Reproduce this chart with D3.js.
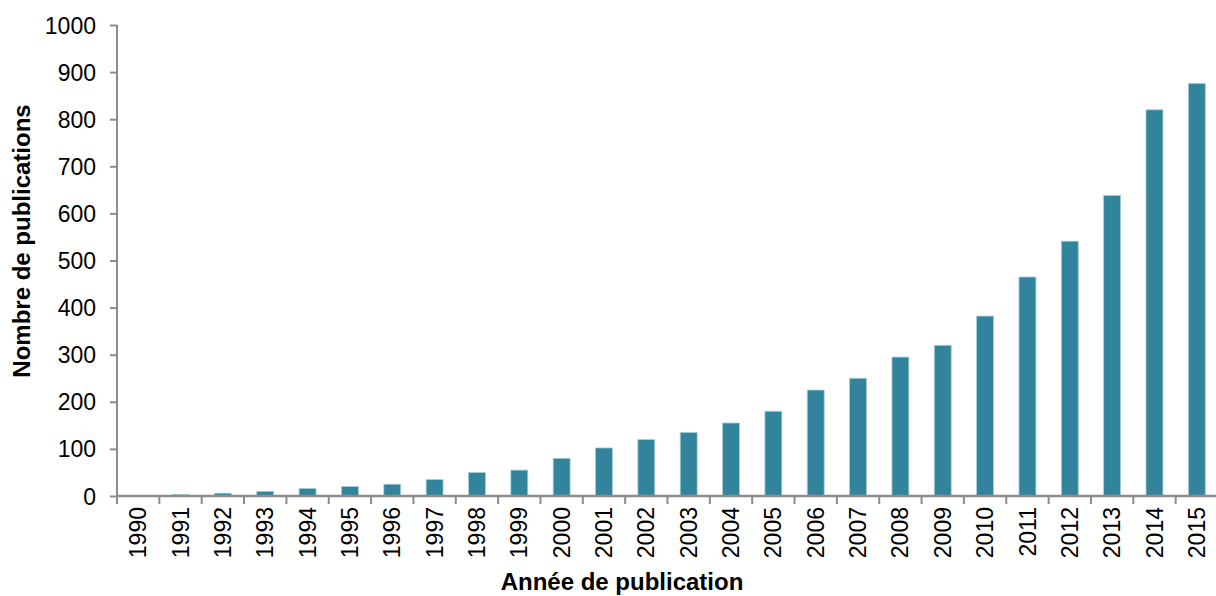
<!DOCTYPE html>
<html>
<head>
<meta charset="utf-8">
<script src="https://cdn.jsdelivr.net/npm/d3@7"></script>
<style>
  body { margin: 0; background: #fff; }
  text { font-family: "Liberation Sans", Arial, sans-serif; fill: #000; }
</style>
</head>
<body>
<div id="chart"></div>
<script>
// Data
const years = ["1990", "1991", "1992", "1993", "1994", "1995", "1996", "1997", "1998", "1999",
  "2000", "2001", "2002", "2003", "2004", "2005", "2006", "2007", "2008", "2009",
  "2010", "2011", "2012", "2013", "2014", "2015"];
const publications = [0, 3, 6, 10, 16, 20, 25, 35, 50, 55,
  80, 102, 120, 135, 155, 180, 225, 250, 295, 320,
  382, 465, 541, 638, 820, 876];
const yTicks = [0, 100, 200, 300, 400, 500, 600, 700, 800, 900, 1000];

const width = 1216, height = 596;
const margin = { top: 25, right: -2, bottom: 100, left: 117 };
const plotW = width - margin.left - margin.right;
const plotH = height - margin.top - margin.bottom;

const svg = d3.select("#chart")
  .append("svg")
  .attr("width", width)
  .attr("height", height);

const g = svg.append("g")
  .attr("transform", `translate(${margin.left},${margin.top})`);

// Scales
const x = d3.scaleBand()
  .domain(years)
  .range([0, plotW])
  .paddingInner(0.6)
  .paddingOuter(0.3);

const y = d3.scaleLinear()
  .domain([0, 1000])
  .range([plotH, 0]);

// Bars
g.selectAll(".bar")
  .data(years)
  .enter()
  .append("rect")
  .attr("class", "bar")
  .attr("x", d => x(d))
  .attr("width", x.bandwidth())
  .attr("y", (d, i) => y(publications[i]))
  .attr("height", (d, i) => plotH - y(publications[i]))
  .style("fill", "#31849b")
  .style("stroke", "#a9cfd9")
  .style("stroke-width", 0.8);

// Y axis
const yAxis = g.append("g")
  .call(d3.axisLeft(y).tickValues(yTicks).tickFormat(d3.format("d")).tickSize(7).tickPadding(14));
yAxis.select(".domain").attr("stroke", "#8c8c8c").attr("stroke-width", 2)
  .attr("d", `M0,0V${plotH}`);
yAxis.selectAll(".tick line").attr("stroke", "#8c8c8c").attr("stroke-width", 2);
yAxis.selectAll(".tick text")
  .style("font-size", "23px")
  .attr("dy", "0.35em");

// X axis: ticks sit on the band boundaries
const xAxisG = g.append("g")
  .attr("transform", `translate(0,${plotH})`);
xAxisG.append("path")
  .attr("d", `M0,0H${plotW}`)
  .attr("stroke", "#8c8c8c")
  .attr("stroke-width", 2.5)
  .attr("fill", "none");
const step = x.step();
xAxisG.selectAll(".xtick")
  .data(years)
  .enter()
  .append("line")
  .attr("class", "xtick")
  .attr("x1", (d, i) => i * step)
  .attr("x2", (d, i) => i * step)
  .attr("y1", 0)
  .attr("y2", 8)
  .attr("stroke", "#8c8c8c")
  .attr("stroke-width", 2);

xAxisG.selectAll(".xlabel")
  .data(years)
  .enter()
  .append("text")
  .attr("class", "xlabel")
  .attr("transform", d => `translate(${x(d) + x.bandwidth() / 2},11) rotate(-90)`)
  .attr("text-anchor", "end")
  .attr("dy", "0.35em")
  .style("font-size", "23px")
  .text(d => d);

// Axis labels
svg.append("text")
  .attr("x", 622)
  .attr("y", 590)
  .attr("text-anchor", "middle")
  .style("font-size", "24px")
  .style("font-weight", "bold")
  .text("Année de publication");

svg.append("text")
  .attr("transform", `translate(30,241) rotate(-90)`)
  .attr("text-anchor", "middle")
  .style("font-size", "24px")
  .style("font-weight", "bold")
  .text("Nombre de publications");
</script>
</body>
</html>
